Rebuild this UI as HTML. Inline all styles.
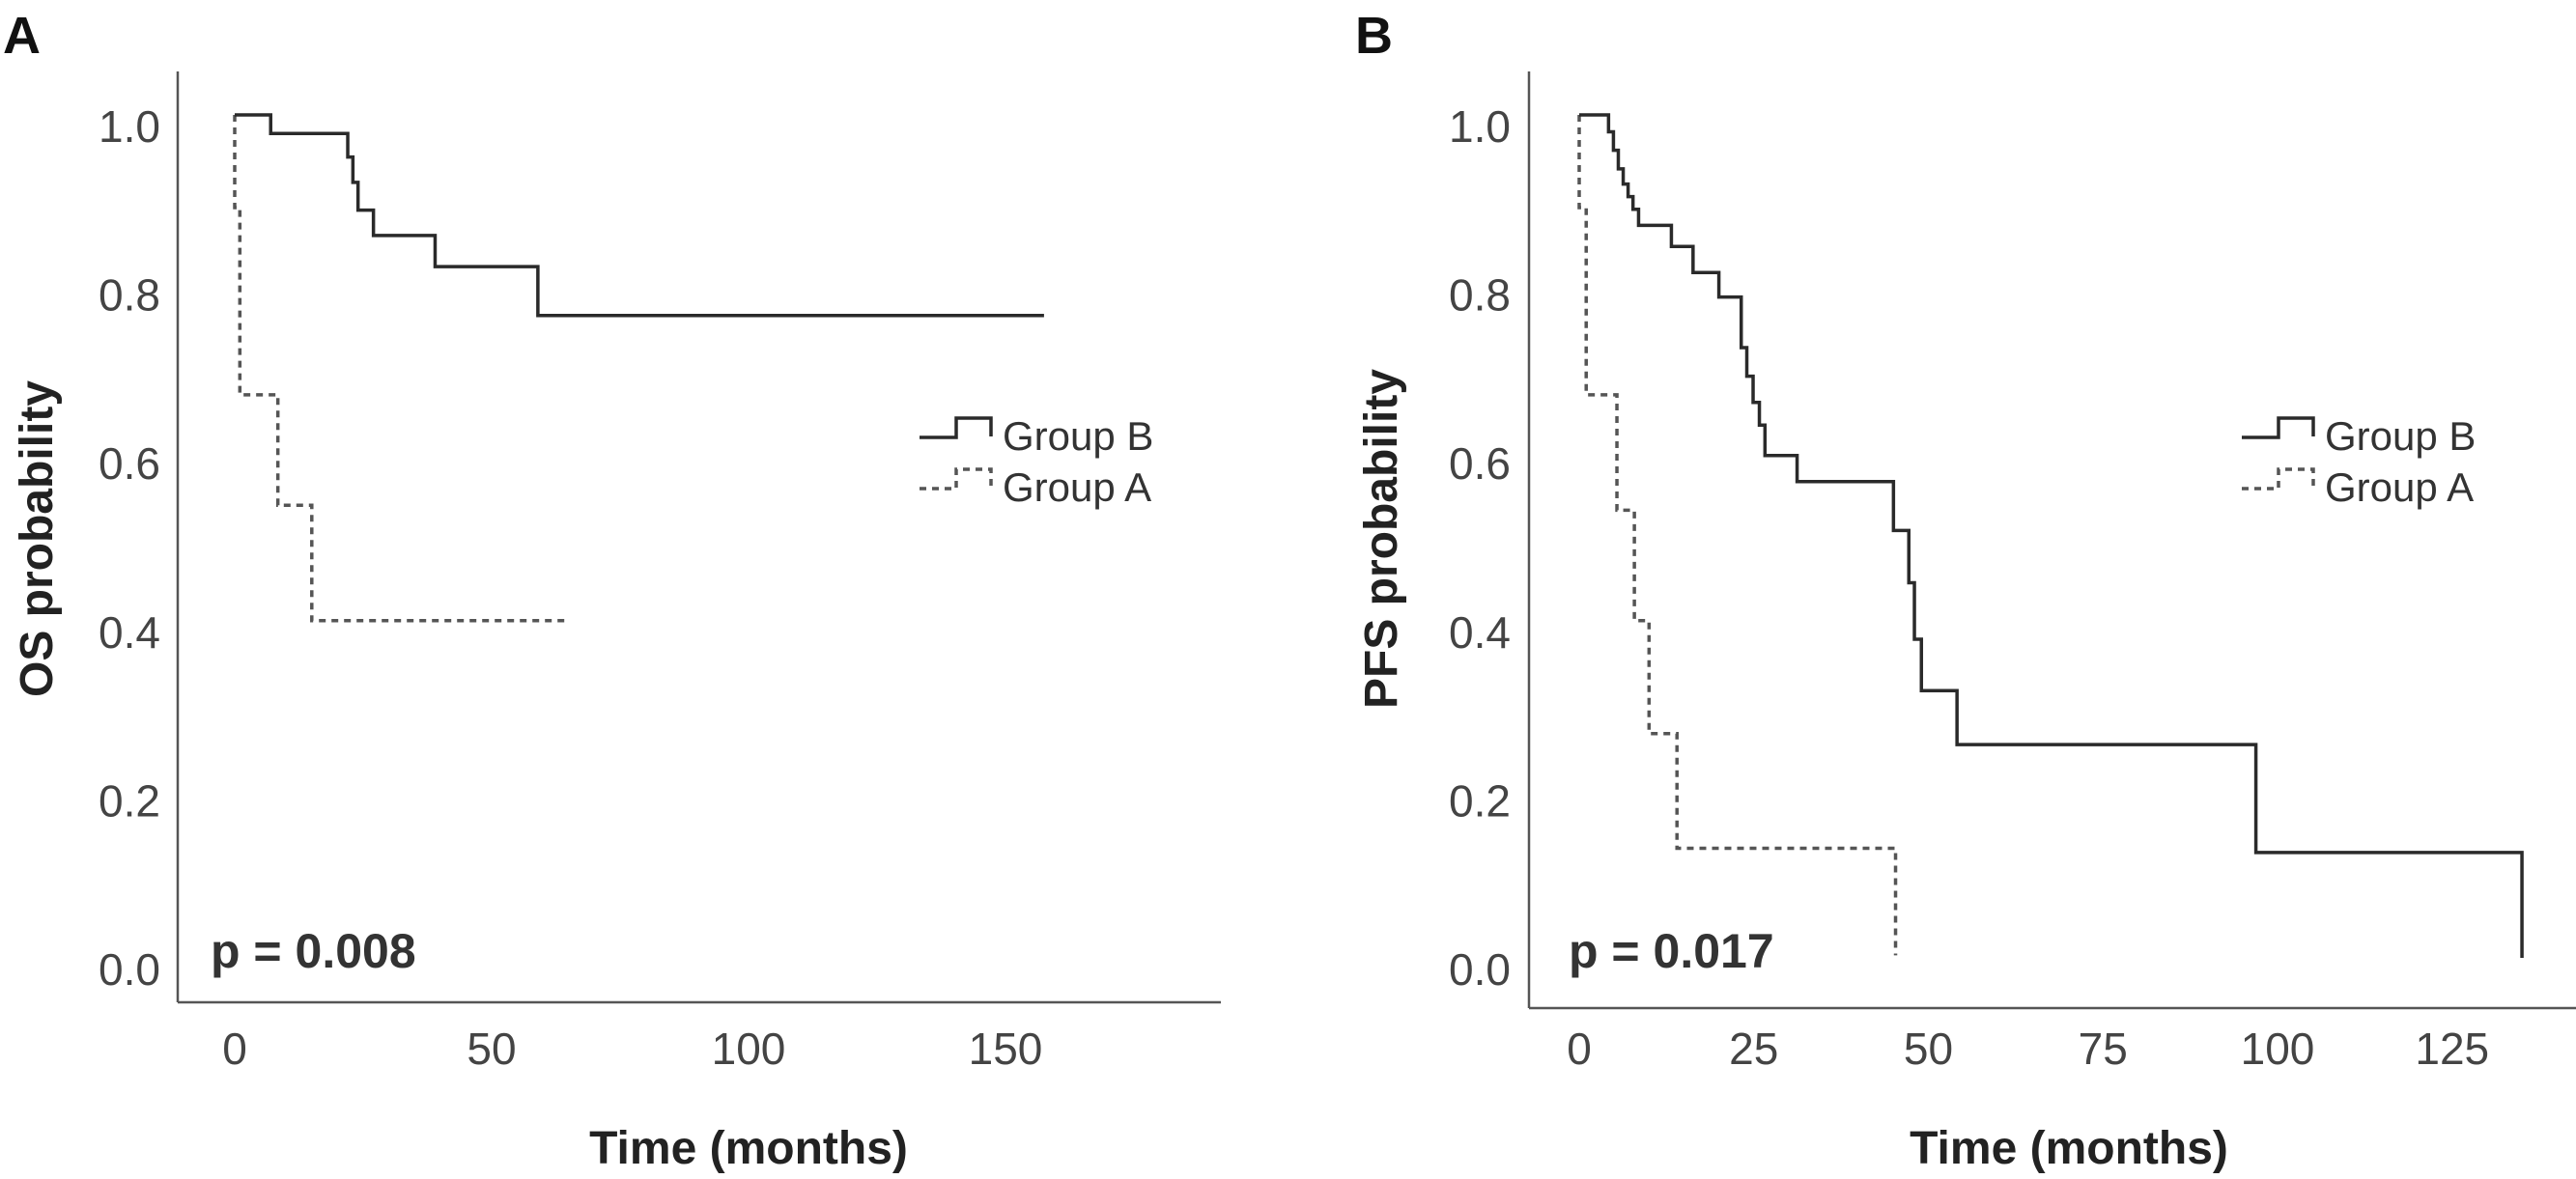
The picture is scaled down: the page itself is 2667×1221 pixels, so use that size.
<!DOCTYPE html>
<html><head><meta charset="utf-8"><style>
html,body{margin:0;padding:0;background:#fff;}
svg{display:block;}
text{font-family:"Liberation Sans",sans-serif;}
</style></head><body>
<svg id="chart" width="2667" height="1221" viewBox="0 0 2667 1221" xmlns="http://www.w3.org/2000/svg"></svg>
<script>
// Panel A (OS) data
const osBTimes = [0, 7, 22, 23, 24, 27, 39, 59, 157.5];
const osBProbs = [1.0, 0.978, 0.95, 0.92, 0.887, 0.857, 0.82, 0.762, 0.762];
const osATimes = [0, 0, 1, 8.4, 15, 65];
const osAProbs = [1.0, 0.89, 0.668, 0.537, 0.4, 0.4];
const osXTicks = [0, 50, 100, 150];
// Panel B (PFS) data
const pfsBTimes = [0, 4.2, 4.9, 5.6, 6.3, 7, 7.7, 8.5, 13.2, 16.3, 20, 23.2, 24, 24.9, 25.8, 26.6, 31.2, 45, 47.2, 48, 49, 54.1, 96.9, 135];
const pfsBProbs = [1.0, 0.98, 0.958, 0.936, 0.918, 0.903, 0.888, 0.869, 0.844, 0.813, 0.784, 0.724, 0.69, 0.659, 0.632, 0.596, 0.565, 0.507, 0.445, 0.378, 0.317, 0.253, 0.125, 0.0];
const pfsATimes = [0, 0, 1, 5.4, 7.9, 10, 14, 45.3];
const pfsAProbs = [1.0, 0.89, 0.668, 0.531, 0.4, 0.266, 0.13, 0.003];
const pfsXTicks = [0, 25, 50, 75, 100, 125];
const yTicks = [0.0, 0.2, 0.4, 0.6, 0.8, 1.0];
const yTickLabels = ["0.0", "0.2", "0.4", "0.6", "0.8", "1.0"];

const svg = document.getElementById('chart');
const NS = 'http://www.w3.org/2000/svg';
function mk(tag, attrs, parent) {
  const e = document.createElementNS(NS, tag);
  for (const k in attrs) e.setAttribute(k, attrs[k]);
  (parent || svg).appendChild(e);
  return e;
}
function stepPath(times, probs, sx, sy) {
  let d = 'M' + sx(times[0]) + ',' + sy(probs[0]);
  for (let i = 1; i < times.length; i++) {
    d += ' H' + sx(times[i]) + ' V' + sy(probs[i]);
  }
  return d;
}
function panel(cfg) {
  const g = mk('g', {});
  
  
  const sx = t => cfg.x0 + t * cfg.pxPerUnit;
  const sy = p => cfg.y0 - p * 873;
  const ya = mk('line', {x1: cfg.axX, y1: 74, x2: cfg.axX, y2: cfg.axY, stroke: '#555', 'stroke-width': 2.5}, g);
  
  
  const xa = mk('line', {x1: cfg.axX, y1: cfg.axY, x2: cfg.axEnd, y2: cfg.axY, stroke: '#555', 'stroke-width': 2.5}, g);
  
  
  yTicks.forEach((v, i) => {
    const t = mk('text', {x: cfg.yLabRight, y: sy(v) + 28, 'text-anchor': 'end', 'font-size': 46, fill: '#444'}, g);
    t.textContent = yTickLabels[i];
    
    
  });
  cfg.xTicks.forEach(v => {
    const t = mk('text', {x: sx(v), y: 1102, 'text-anchor': 'middle', 'font-size': 46, fill: '#444'}, g);
    t.textContent = String(v);
    
    
  });
  const a = mk('path', {d: stepPath(cfg.aT, cfg.aP, sx, sy), fill: 'none', stroke: '#555', 'stroke-width': 3.5, 'stroke-dasharray': '7,6'}, g);
  
  
  const b = mk('path', {d: stepPath(cfg.bT, cfg.bP, sx, sy), fill: 'none', stroke: '#2a2a2a', 'stroke-width': 3.5}, g);
  
  
  const xt = mk('text', {x: cfg.xTitleX, y: 1205, 'text-anchor': 'middle', 'font-size': 48, 'font-weight': 'bold', fill: '#222'}, g);
  xt.textContent = 'Time (months)';
  
  
  const yt = mk('text', {x: 0, y: 0, 'text-anchor': 'middle', 'font-size': 48, 'font-weight': 'bold', fill: '#222', transform: 'translate(' + cfg.yTitleX + ',' + 558 + ') rotate(-90)'}, g);
  yt.textContent = cfg.yTitle;
  
  
  const pl = mk('text', {x: cfg.letterX, y: 55, 'font-size': 54, 'font-weight': 'bold', fill: '#111'}, g);
  pl.textContent = cfg.letter;
  
  
  const pv = mk('text', {x: cfg.pX, y: 1002, 'font-size': 50, 'font-weight': 'bold', fill: '#333'}, g);
  pv.textContent = cfg.pText;
  
  
  const lx = cfg.legX;
  const lb = mk('path', {d: 'M' + lx + ',453 H' + (lx + 38) + ' V433 H' + (lx + 74) + ' V452', fill: 'none', stroke: '#2a2a2a', 'stroke-width': 3.5}, g);
  
  
  const tb = mk('text', {x: lx + 86, y: 466, 'font-size': 42, fill: '#333'}, g);
  tb.textContent = 'Group B';
  
  
  const la = mk('path', {d: 'M' + lx + ',506 H' + (lx + 38) + ' V486 H' + (lx + 74) + ' V505', fill: 'none', stroke: '#555', 'stroke-width': 3.5, 'stroke-dasharray': '7,6'}, g);
  
  
  const ta = mk('text', {x: lx + 86, y: 519, 'font-size': 42, fill: '#333'}, g);
  ta.textContent = 'Group A';
  
  
}
panel({name: 'panel-a-os', x0: 243, pxPerUnit: 5.32, y0: 992, axX: 184, axY: 1038, axEnd: 1264, yLabRight: 166,
  xTicks: osXTicks, aT: osATimes, aP: osAProbs, bT: osBTimes, bP: osBProbs,
  xTitleX: 775, yTitleX: 54, yTitle: 'OS probability', letter: 'A', letterX: 3, pX: 218, pText: 'p = 0.008', legX: 952});
panel({name: 'panel-b-pfs', x0: 1635, pxPerUnit: 7.23, y0: 992, axX: 1583, axY: 1044, axEnd: 2667, yLabRight: 1564,
  xTicks: pfsXTicks, aT: pfsATimes, aP: pfsAProbs, bT: pfsBTimes, bP: pfsBProbs,
  xTitleX: 2142, yTitleX: 1446, yTitle: 'PFS probability', letter: 'B', letterX: 1403, pX: 1624, pText: 'p = 0.017', legX: 2321});
</script>
</body></html>
